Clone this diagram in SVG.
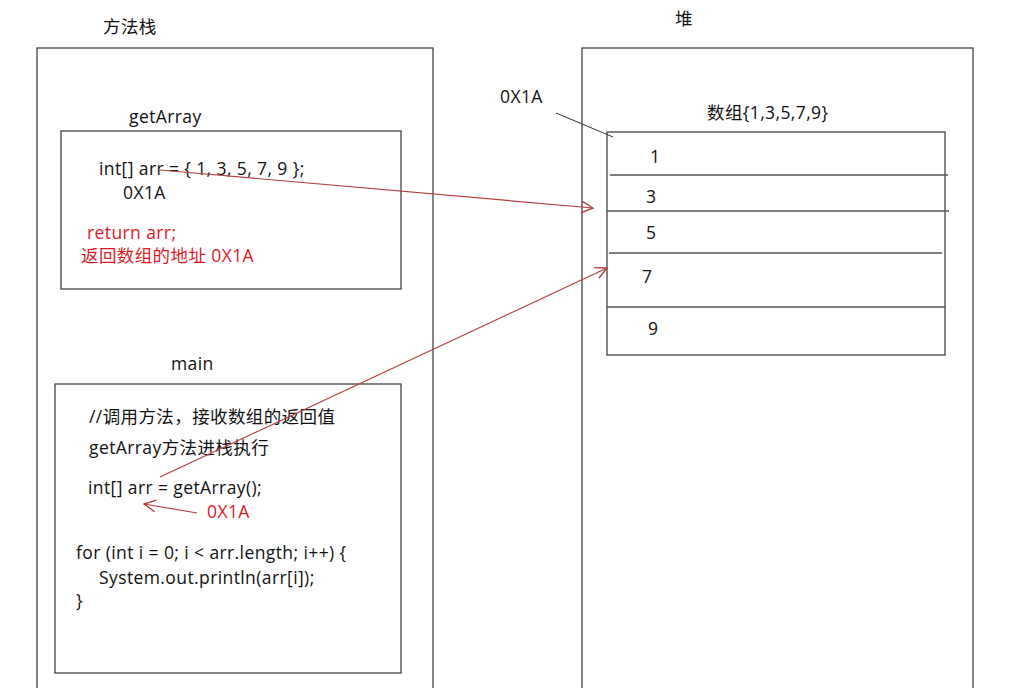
<svg xmlns="http://www.w3.org/2000/svg" width="1033" height="688" viewBox="0 0 1033 688">
<style>
text{font-family:"Open Sans","Noto Sans CJK SC",sans-serif;font-size:17.5px;letter-spacing:0.4px;fill:#111}
.r{fill:#e0191f}
.box{fill:none;stroke:#444;stroke-width:1.3}
.ln{stroke:#555;stroke-width:1.3}
.ar{fill:none;stroke:#b5413f;stroke-width:1.2}
</style>
<defs>
<marker id="oa" viewBox="0 0 12 12" refX="11" refY="6" markerWidth="14" markerHeight="14" markerUnits="userSpaceOnUse" orient="auto">
<path d="M1,1 L11,6 L1,11" fill="none" stroke="#b5413f" stroke-width="1.2"/>
</marker>
</defs>
<rect width="1033" height="688" fill="#fff"/>
<g id="stack">
<rect class="box" x="37" y="48" width="396" height="650"/>
<text x="103" y="33">方法栈</text>
</g>
<g id="heap">
<rect class="box" x="582" y="48" width="391" height="650"/>
<text x="675" y="25">堆</text>
<text x="500" y="103">0X1A</text>
<text x="707" y="119">数组{1,3,5,7,9}</text>
</g>
<g id="getArray">
<text x="129" y="123">getArray</text>
<rect class="box" x="61" y="131" width="340" height="158"/>
<text x="99" y="175">int[] arr = { 1, 3, 5, 7, 9 };</text>
<text x="123" y="199">0X1A</text>
<text class="r" x="87" y="239">return arr;</text>
<text class="r" x="81" y="262">返回数组的地址 0X1A</text>
</g>
<g id="main">
<text x="171" y="370">main</text>
<rect class="box" x="55" y="384" width="346" height="289"/>
<text x="89" y="423">//调用方法，接收数组的返回值</text>
<text x="89" y="454">getArray方法进栈执行</text>
<text x="88" y="494">int[] arr = getArray();</text>
<text class="r" x="207" y="518">0X1A</text>
<text x="76" y="559">for (int i = 0; i &lt; arr.length; i++) {</text>
<text x="99" y="584">System.out.println(arr[i]);</text>
<text x="76" y="607">}</text>
</g>
<g id="array">
<rect class="box" x="607" y="132" width="338" height="223"/>
<line class="ln" x1="610" y1="175" x2="948" y2="175"/>
<line class="ln" x1="607" y1="211" x2="949" y2="211"/>
<line class="ln" x1="609" y1="253" x2="942" y2="253"/>
<line class="ln" x1="607" y1="307" x2="945" y2="307"/>
<text x="650" y="163">1</text>
<text x="646" y="203">3</text>
<text x="646" y="239">5</text>
<text x="642" y="283">7</text>
<text x="648" y="335">9</text>
</g>
<g id="connectors">
<line x1="556" y1="113" x2="613" y2="137" stroke="#333" stroke-width="1"/>
<line class="ar" x1="160" y1="170" x2="593" y2="208" marker-end="url(#oa)"/>
<line class="ar" x1="160" y1="477" x2="607" y2="268" marker-end="url(#oa)"/>
<line class="ar" x1="197" y1="513" x2="144" y2="504" marker-end="url(#oa)"/>
</g>
</svg>
